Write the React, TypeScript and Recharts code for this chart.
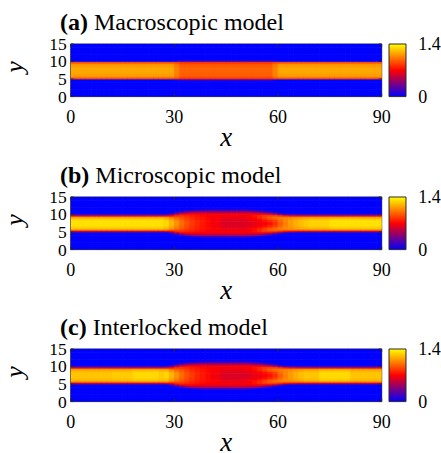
import { Bar, BarChart, Label, Scatter, ScatterChart, XAxis, YAxis } from 'recharts';

const SERIF = '"Liberation Serif", "Times New Roman", Times, serif';
const FRAME = '#2b2b2b';

// axes
const xTicks = [0, 30, 60, 90];
const yTicks = [0, 5, 10, 15];
const cbTicks = [0, 1.4];
const cbMax = 1.4;
const xMax = 90;
const yMax = 15;
const panelTags = ['(a)', '(b)', '(c)'];
const panelNames = ['Macroscopic model', 'Microscopic model', 'Interlocked model'];

// grid: columns of 1.5 in x (0..90), rows of 0.5 in y (0..15)
const colWidth = 1.5;
const rowHeight = 0.5;
const rowCount = 30;

// colour map: blue -> red -> yellow
const cmapPos = [0, 0.5, 1];
const cmapRGB = [
  [0, 0, 255],
  [255, 0, 0],
  [255, 255, 0],
];

// density across the lane, from the centre line (y = 7.5) outwards, steps of 0.5
// (a) macroscopic
const aOut = [1.16, 1.15, 1.13, 1.1, 0.9];
const aEdge = [1.06, 1.05, 1.04, 1.02, 0.88, 0.05];
const aMid = [0.97, 0.96, 0.95, 0.93, 0.83, 0.12];

// (b) microscopic
const bYel = [1.32, 1.31, 1.26, 1.13, 0.55];
const b18 = [1.29, 1.28, 1.22, 1.11, 0.6];
const b19 = [1.2, 1.18, 1.12, 1.02, 0.7, 0.15];
const b20 = [1.1, 1.08, 1.02, 0.95, 0.8, 0.4, 0.1];
const b21 = [1.0, 0.98, 0.95, 0.9, 0.82, 0.6, 0.22];
const b22 = [0.92, 0.9, 0.88, 0.85, 0.8, 0.65, 0.35, 0.05];
const b23 = [0.85, 0.84, 0.83, 0.8, 0.77, 0.67, 0.42, 0.1];
const b24 = [0.8, 0.8, 0.78, 0.77, 0.74, 0.66, 0.46, 0.14];
const b25 = [0.76, 0.76, 0.75, 0.74, 0.72, 0.65, 0.48, 0.17];
const b26 = [0.72, 0.72, 0.72, 0.71, 0.7, 0.64, 0.48, 0.18, 0.02];
const b27 = [0.67, 0.67, 0.68, 0.69, 0.69, 0.64, 0.48, 0.18, 0.02];
const bCore = [0.6, 0.61, 0.63, 0.66, 0.68, 0.64, 0.48, 0.18, 0.02];
const b34 = [0.62, 0.63, 0.66, 0.69, 0.7, 0.64, 0.46, 0.15];
const b35 = [0.64, 0.66, 0.7, 0.74, 0.74, 0.64, 0.42, 0.11];
const b36 = [0.66, 0.69, 0.75, 0.81, 0.79, 0.63, 0.36, 0.06];
const b37 = [0.69, 0.73, 0.82, 0.89, 0.84, 0.6, 0.27, 0.02];
const b38 = [0.74, 0.79, 0.9, 0.96, 0.86, 0.53, 0.16];
const b39 = [0.83, 0.87, 0.96, 1.01, 0.85, 0.4, 0.07];
const b40 = [0.95, 0.98, 1.02, 1.03, 0.8, 0.2];
const b41 = [1.05, 1.06, 1.07, 1.05, 0.72, 0.05];
const b42 = [1.12, 1.12, 1.1, 1.06, 0.65];
const b43 = [1.18, 1.17, 1.14, 1.07, 0.6];
const b44 = [1.22, 1.21, 1.17, 1.08, 0.58];
const b45 = [1.25, 1.24, 1.2, 1.1, 0.57];
const b46 = [1.28, 1.27, 1.22, 1.11, 0.56];

// (c) interlocked
const cYel = [1.24, 1.23, 1.2, 1.1, 0.55];
const cYel2 = [1.26, 1.25, 1.22, 1.11, 0.55];
const cLight = [1.3, 1.29, 1.25, 1.13, 0.55];

// which profile each column uses, as [profile, number of columns]
const runsA: [number[], number][] = [
  [aOut, 20], [aEdge, 1], [aMid, 18], [aEdge, 1], [aOut, 20],
];
const runsB: [number[], number][] = [
  [bYel, 18], [b18, 1], [b19, 1], [b20, 1], [b21, 1], [b22, 1], [b23, 1], [b24, 1], [b25, 1], [b26, 1],
  [b27, 2], [bCore, 5], [b34, 1], [b35, 1], [b36, 1], [b37, 1], [b38, 1], [b39, 1],
  [b40, 1], [b41, 1], [b42, 1], [b43, 1], [b44, 1], [b45, 1], [b46, 4], [bYel, 10],
];
const runsC: [number[], number][] = [
  [cYel, 8], [cYel2, 4], [cLight, 5], [cYel2, 1], [b18, 1], [b19, 1], [b20, 1], [b21, 1], [b22, 1], [b23, 1],
  [b24, 1], [b25, 1], [b26, 1], [b27, 2], [bCore, 5], [b34, 1], [b35, 1], [b36, 1], [b37, 1], [b38, 1],
  [b39, 1], [b40, 1], [b41, 1], [b42, 1], [b43, 1], [b44, 1], [b45, 1], [cYel, 2], [cLight, 6], [cYel, 6],
];
const panelRuns = [runsA, runsB, runsC];

// layout
const plotTops = [43.7, 196.7, 349];
const plotLeft = 70.7;
const plotW = 311;
const plotH = 52.6;
const chartW = 441;
const topPad = 16;
const xAxisH = 52;
const bottomPad = 8;
const chartH = topPad + plotH + xAxisH + bottomPad;
const yAxisW = 30;
const cellW = (plotW / xMax) * colWidth + 0.6;
const cellH = (plotH / yMax) * rowHeight + 0.6;

function heat(v: number) {
  const t = Math.max(0, Math.min(1, v / cbMax));
  let i = 0;
  while (i < cmapPos.length - 2 && t > cmapPos[i + 1]) i++;
  const f = (t - cmapPos[i]) / (cmapPos[i + 1] - cmapPos[i]);
  const c = cmapRGB[i].map((a, k) => Math.round(a + (cmapRGB[i + 1][k] - a) * f));
  return `rgb(${c.join(',')})`;
}

function valueAt(profile: number[], row: number) {
  const half = rowCount / 2;
  const off = row >= half ? row - half : half - 1 - row;
  return off < profile.length ? profile[off] : 0;
}

function buildCells(runs: [number[], number][]) {
  const cols = runs.flatMap(([p, n]) => Array.from({ length: n }, () => p));
  const cells: { x: number; y: number; color: string }[] = [];
  cols.forEach((p, k) => {
    for (let j = 0; j < rowCount; j++) {
      cells.push({
        x: (k + 0.5) * colWidth,
        y: (j + 0.5) * rowHeight,
        color: heat(valueAt(p, j)),
      });
    }
  });
  return cells;
}

const HeatCell = ({ cx, cy, payload }: any) => (
  <rect x={cx - cellW / 2} y={cy - cellH / 2} width={cellW} height={cellH} fill={payload.color} />
);

const BottomTick = ({ x, y, payload }: any) => (
  <g>
    <line x1={x} x2={x} y1={y} y2={y - 3} stroke={FRAME} />
    <text x={x} y={y + 26} textAnchor="middle" fontSize={18} fontFamily={SERIF} fill="#000">
      {payload.value}
    </text>
  </g>
);
const TopTick = ({ x, y }: any) => <line x1={x} x2={x} y1={y} y2={y + 3} stroke={FRAME} />;
const LeftTick = ({ x, y, payload }: any) => (
  <g>
    <line x1={x} x2={x + 3} y1={y} y2={y} stroke={FRAME} />
    <text x={x - 4} y={y} dy="0.34em" textAnchor="end" fontSize={17.5} fontFamily={SERIF} fill="#000">
      {payload.value}
    </text>
  </g>
);
const RightTick = ({ x, y }: any) => <line x1={x} x2={x - 3} y1={y} y2={y} stroke={FRAME} />;
const BarTick = ({ x, y, payload }: any) => (
  <text x={x + 12.5} y={y} dy="0.34em" textAnchor="start" fontSize={18} fontFamily={SERIF} fill="#000">
    {payload.value}
  </text>
);

function Panel({ idx }: { idx: number }) {
  const cells = buildCells(panelRuns[idx]);
  const top = plotTops[idx];
  const gid = `cb-grad-${idx}`;

  return (
    <>
      <div
        style={{
          position: 'absolute',
          left: 60,
          top: top - 34,
          fontFamily: SERIF,
          fontSize: 24,
          lineHeight: '24px',
          whiteSpace: 'nowrap',
        }}
      >
        <b>{panelTags[idx]}</b> {panelNames[idx]}
      </div>
      <div style={{ position: 'absolute', left: 0, top: top - topPad }}>
        <ScatterChart
          width={chartW}
          height={chartH}
          margin={{
            top: topPad - 1,
            right: chartW - plotLeft - plotW - 1,
            bottom: bottomPad,
            left: plotLeft - yAxisW,
          }}
        >
          <Scatter
            data={cells}
            xAxisId="b"
            yAxisId="l"
            shape={<HeatCell />}
            isAnimationActive={false}
          />
          <XAxis
            xAxisId="b"
            dataKey="x"
            type="number"
            domain={[0, xMax]}
            ticks={xTicks}
            interval={0}
            allowDataOverflow
            height={xAxisH}
            tickSize={0}
            tickLine={false}
            tickMargin={0}
            axisLine={{ stroke: FRAME }}
            tick={<BottomTick />}
          >
            <Label
              content={({ viewBox }: any) => (
                <text
                  x={viewBox.x + viewBox.width / 2}
                  y={viewBox.y + 49}
                  textAnchor="middle"
                  fontSize={27}
                  fontStyle="italic"
                  fontFamily={SERIF}
                  fill="#000"
                >
                  x
                </text>
              )}
            />
          </XAxis>
          <XAxis
            xAxisId="t"
            orientation="top"
            dataKey="x"
            type="number"
            domain={[0, xMax]}
            ticks={xTicks}
            interval={0}
            allowDataOverflow
            height={1}
            tickSize={0}
            tickLine={false}
            tickMargin={0}
            axisLine={{ stroke: FRAME }}
            tick={<TopTick />}
          />
          <YAxis
            yAxisId="l"
            dataKey="y"
            type="number"
            domain={[0, yMax]}
            ticks={yTicks}
            interval={0}
            allowDataOverflow
            width={yAxisW}
            tickSize={0}
            tickLine={false}
            tickMargin={0}
            axisLine={{ stroke: FRAME }}
            tick={<LeftTick />}
          >
            <Label
              content={({ viewBox }: any) => {
                const X = viewBox.x + viewBox.width - 48;
                const Y = viewBox.y + 23;
                return (
                  <text
                    x={X}
                    y={Y}
                    transform={`rotate(-90 ${X} ${Y})`}
                    textAnchor="middle"
                    fontSize={26}
                    fontStyle="italic"
                    fontFamily={SERIF}
                    fill="#000"
                  >
                    y
                  </text>
                );
              }}
            />
          </YAxis>
          <YAxis
            yAxisId="r"
            orientation="right"
            dataKey="y"
            type="number"
            domain={[0, yMax]}
            ticks={yTicks}
            interval={0}
            allowDataOverflow
            width={1}
            tickSize={0}
            tickLine={false}
            tickMargin={0}
            axisLine={{ stroke: FRAME }}
            tick={<RightTick />}
          />
        </ScatterChart>
      </div>
      <div style={{ position: 'absolute', left: 380, top: top - topPad }}>
        <BarChart
          width={61}
          height={chartH}
          data={[{ k: 'cb', v: cbMax }]}
          barCategoryGap={0}
          margin={{ top: topPad, right: 0, bottom: xAxisH + bottomPad, left: 9 }}
        >
          <defs>
            <linearGradient id={gid} x1="0" y1="1" x2="0" y2="0">
              {cmapPos.map((p, i) => (
                <stop key={i} offset={p} stopColor={`rgb(${cmapRGB[i].join(',')})`} />
              ))}
            </linearGradient>
          </defs>
          <XAxis dataKey="k" type="category" hide />
          <YAxis
            orientation="right"
            type="number"
            domain={[0, cbMax]}
            ticks={cbTicks}
            interval={0}
            width={35.3}
            tickSize={0}
            tickLine={false}
            tickMargin={0}
            axisLine={false}
            tick={<BarTick />}
          />
          <Bar dataKey="v" fill={`url(#${gid})`} stroke={FRAME} strokeWidth={1} isAnimationActive={false} />
        </BarChart>
      </div>
    </>
  );
}

export default function App() {
  return (
    <div style={{ position: 'absolute', left: 0, top: 0, width: 441, height: 453, background: '#fff' }}>
      {panelTags.map((_, i) => (
        <Panel key={i} idx={i} />
      ))}
    </div>
  );
}
